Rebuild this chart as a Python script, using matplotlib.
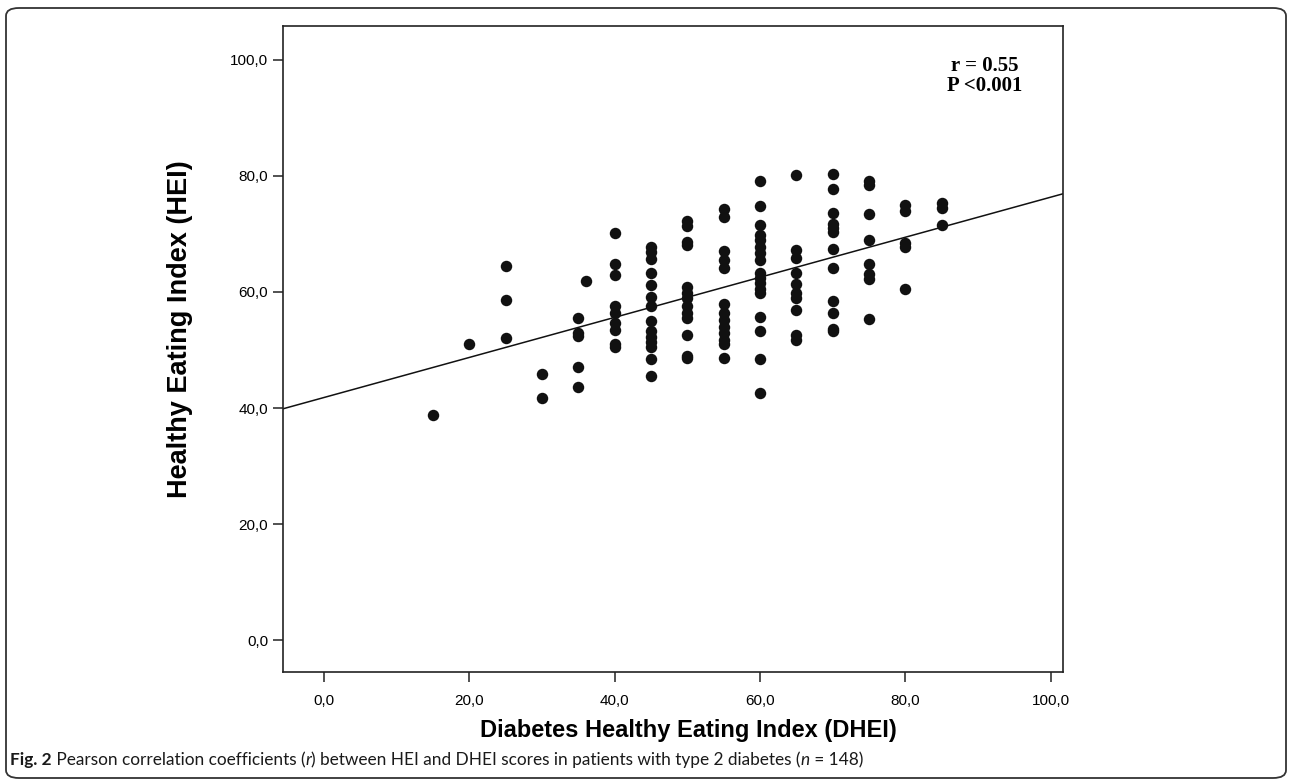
import matplotlib
matplotlib.use("Agg")
import matplotlib.pyplot as plt
from matplotlib.patches import FancyBboxPatch
import numpy as np

# DHEI score columns and HEI values
dhei_15 = [38.8]
dhei_20 = [51.0]
dhei_25 = [64.4, 58.7, 52.0]
dhei_30 = [45.9, 41.8]
dhei_35 = [55.6, 52.9, 52.4, 47.1, 43.7]
dhei_36 = [61.9]
dhei_40 = [70.2, 64.8, 63.0, 57.6, 56.4, 54.6, 53.4, 51.1, 50.6]
dhei_45 = [67.7, 66.9, 65.7, 63.2, 61.2, 59.1, 57.5, 55.0, 53.2, 52.3, 51.4, 50.6, 48.4, 45.5]
dhei_50 = [72.2, 71.3, 68.7, 68.1, 60.9, 59.9, 58.9, 57.6, 56.4, 55.5, 52.6, 49.0, 48.7]
dhei_55 = [74.3, 72.9, 67.1, 65.5, 64.1, 57.9, 56.3, 55.2, 54.0, 52.9, 51.7, 51.0, 48.7]
dhei_60 = [79.1, 74.9, 71.5, 69.8, 69.0, 67.8, 66.7, 65.5, 63.2, 62.4, 61.5, 60.6, 59.8,
           55.7, 53.3, 48.4, 42.6]
dhei_65 = [80.1, 67.2, 65.8, 63.3, 61.4, 59.9, 58.9, 56.9, 52.6, 51.7]
dhei_70 = [80.3, 77.8, 73.7, 71.8, 71.0, 70.3, 67.4, 64.1, 58.4, 56.4, 53.7, 53.2]
dhei_75 = [79.2, 78.4, 73.4, 69.0, 64.8, 63.1, 62.2, 55.3]
dhei_80 = [75.0, 74.0, 68.4, 67.7, 60.6]
dhei_85 = [75.3, 74.4, 71.6]

columns = {15: dhei_15, 20: dhei_20, 25: dhei_25, 30: dhei_30, 35: dhei_35, 36: dhei_36,
           40: dhei_40, 45: dhei_45, 50: dhei_50, 55: dhei_55, 60: dhei_60, 65: dhei_65,
           70: dhei_70, 75: dhei_75, 80: dhei_80, 85: dhei_85}

x = []
y = []
for k, vals in columns.items():
    x += [k] * len(vals)
    y += vals
x = np.array(x, dtype=float)
y = np.array(y)

ticks = [0, 20, 40, 60, 80, 100]
tick_labels = ["0,0", "20,0", "40,0", "60,0", "80,0", "100,0"]

fig = plt.figure(figsize=(12.92, 7.84), dpi=100)
ax = fig.add_axes([0.2193, 0.1429, 0.6035, 0.8243])

ax.scatter(x, y, s=68, color="#111111", linewidths=0, zorder=3)

slope, intercept = np.polyfit(x, y, 1)
xs = np.array([-5.6, 101.7])
ax.plot(xs, intercept + slope * xs, color="#111111", lw=1.1, zorder=2)

ax.set_xlim(-5.6, 101.7)
ax.set_ylim(-5.5, 105.9)
ax.set_xticks(ticks)
ax.set_xticklabels(tick_labels, family="Liberation Sans", fontsize=11)
ax.set_yticks(ticks)
ax.set_yticklabels(tick_labels, family="Liberation Sans", fontsize=11)
ax.tick_params(direction="out", length=7, width=1.1, color="#222222", pad=4)
ax.tick_params(axis="x", pad=9)
for sp in ax.spines.values():
    sp.set_linewidth(1.2)
    sp.set_color("#222222")

ax.set_xlabel("Diabetes Healthy Eating Index (DHEI)", family="Liberation Sans",
              fontweight="bold", fontsize=17, va="center")
ax.set_ylabel("Healthy Eating Index (HEI)", family="Liberation Sans",
              fontweight="bold", fontsize=19.5, va="center", ha="center")
ax.xaxis.set_label_coords(0.52, -0.0913)
ax.yaxis.set_label_coords(-0.132, 0.53)

ax.text(0.9, 0.938, "r = 0.55", transform=ax.transAxes, ha="center", va="center",
        family="Liberation Serif", fontweight="bold", fontsize=15)
ax.text(0.9, 0.906, "P <0.001", transform=ax.transAxes, ha="center", va="center",
        family="Liberation Serif", fontweight="bold", fontsize=15)

# rounded frame around the figure
frame = FancyBboxPatch((6 / 1292, 6 / 784), 1280 / 1292, 770 / 784,
                       boxstyle="round,pad=0,rounding_size=0.01",
                       transform=fig.transFigure, fill=False, ec="#333333", lw=1.3)
fig.patches.append(frame)

# caption, built piece by piece so r and n can be italic
pieces = [("Fig. 2", "bold", "normal"),
          (" Pearson correlation coefficients (", "normal", "normal"),
          ("r", "normal", "italic"),
          (") between HEI and DHEI scores in patients with type 2 diabetes (", "normal", "normal"),
          ("n", "normal", "italic"),
          (" = 148)", "normal", "normal")]
fig.canvas.draw()
renderer = fig.canvas.get_renderer()

base = 10.0
widths = []
for txt, wt, st in pieces:
    t = fig.text(0, 0, txt, family="Lato", fontweight=wt, style=st, fontsize=base)
    widths.append(t.get_window_extent(renderer).width)
    t.remove()
size = base * 857 / sum(widths)

xpos = 10 / 1292
for txt, wt, st in pieces:
    t = fig.text(xpos, 1 - 760 / 784, txt, family="Lato", fontweight=wt, style=st,
                 fontsize=size, va="center", ha="left", color="#1a1a1a")
    xpos += t.get_window_extent(renderer).width / 1292

fig.savefig("out.png", dpi=100)
